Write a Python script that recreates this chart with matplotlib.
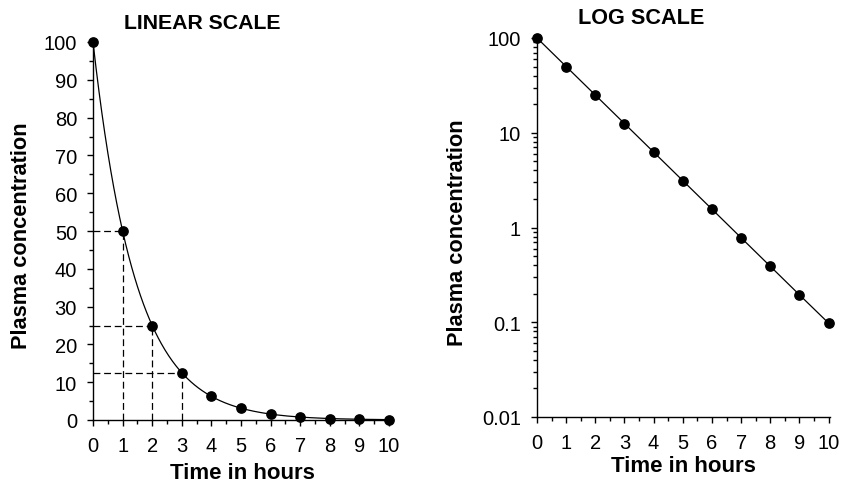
import numpy as np
import matplotlib
matplotlib.use("Agg")
import matplotlib.pyplot as plt
from matplotlib.ticker import MultipleLocator, FixedLocator, LogLocator, NullFormatter

plt.rcParams['font.family'] = ['Liberation Sans', 'DejaVu Sans']

hours = [0, 1, 2, 3, 4, 5, 6, 7, 8, 9, 10]
conc = [100, 50, 25, 12.5, 6.25, 3.125, 1.5625, 0.78, 0.39, 0.195, 0.098]
guide_hours = [1, 2, 3]
guide_conc = [50, 25, 12.5]
linear_yticks = [0, 10, 20, 30, 40, 50, 60, 70, 80, 90, 100]
log_yticks = [0.01, 0.1, 1, 10, 100]
log_yticklabels = ["0.01", "0.1", "1", "10", "100"]

W, H = 843, 485
fig = plt.figure(figsize=(W / 100, H / 100), dpi=100)

ax1 = fig.add_axes([93 / W, 1 - 421 / H, (392 - 93) / W, (421 - 43) / H])
ax2 = fig.add_axes([537 / W, 1 - 418 / H, (830 - 537) / W, (418 - 39) / H])

# smooth connector drawn through the data points (log-linear between points)
xs = np.linspace(hours[0], hours[-1], 400)
ys = np.exp(np.interp(xs, hours, np.log(conc)))

ax1.plot(xs, ys, color='black', lw=0.9, zorder=2)
ax1.plot(hours, conc, 'o', color='black', ms=6.7, zorder=3, clip_on=False)
for gx, gy in zip(guide_hours, guide_conc):
    ax1.plot([0, gx], [gy, gy], color='black', lw=0.9, ls=(0, (5.5, 3)), zorder=1)
    ax1.plot([gx, gx], [0, gy], color='black', lw=0.9, ls=(0, (5.5, 3)), zorder=1)

ax1.set_xlim(0, 10.1)
ax1.set_ylim(0, 100)
ax1.yaxis.set_major_locator(FixedLocator(linear_yticks))
ax1.yaxis.set_minor_locator(MultipleLocator(5))

ax2.plot(hours, conc, '-', color='black', lw=0.9, zorder=2)
ax2.plot(hours, conc, 'o', color='black', ms=6.7, zorder=3, clip_on=False)
ax2.set_yscale('log')
ax2.set_xlim(0, 10.05)
ax2.set_ylim(0.01, 100)
ax2.yaxis.set_major_locator(FixedLocator(log_yticks))
ax2.set_yticklabels(log_yticklabels)
ax2.yaxis.set_minor_locator(LogLocator(base=10, subs=np.arange(2, 10), numticks=20))
ax2.yaxis.set_minor_formatter(NullFormatter())

for ax in (ax1, ax2):
    for s in ('top', 'right'):
        ax.spines[s].set_visible(False)
    for s in ('left', 'bottom'):
        ax.spines[s].set_linewidth(1.0)
    ax.xaxis.set_major_locator(FixedLocator(hours))
    ax.xaxis.set_minor_locator(MultipleLocator(0.5))
    ax.tick_params(which='major', direction='out', length=4.5, width=1.0, labelsize=14.5, pad=7)
    ax.tick_params(which='minor', direction='out', length=3, width=1.0)
    ax.set_xlabel('Time in hours', fontsize=16, fontweight='bold')
    ax.set_ylabel('Plasma concentration', fontsize=15.7, fontweight='bold')

ax1.xaxis.set_label_coords(0.5, -0.11)
ax2.xaxis.set_label_coords(0.5, -0.10)
ax1.yaxis.set_label_coords(-0.204, 0.49)
ax2.yaxis.set_label_coords(-0.236, 0.49)

fig.text(202 / W, 1 - 23.5 / H, 'LINEAR SCALE', ha='center', va='center', fontsize=15.3, fontweight='bold')
fig.text(641 / W, 1 - 19 / H, 'LOG SCALE', ha='center', va='center', fontsize=15.6, fontweight='bold')

fig.savefig('out.png', dpi=100)
